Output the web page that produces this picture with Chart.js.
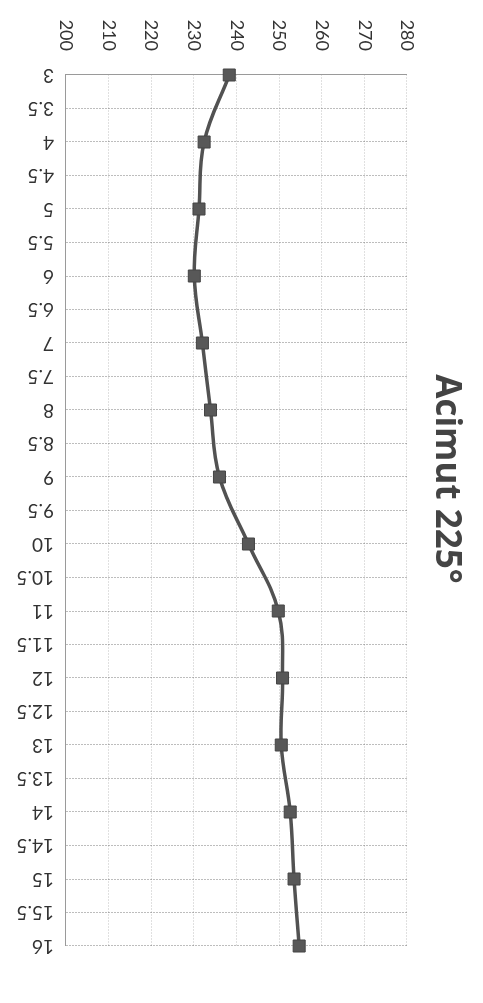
<!DOCTYPE html>
<html lang="es">
<head>
    <meta charset="UTF-8">
    <title>Acimut 225°</title>
    <script src="https://cdn.jsdelivr.net/npm/chart.js"></script>
    <style>
        html, body { margin: 0; padding: 0; background: #fff; }
        /* the scanned sheet is turned on its side, so the chart is drawn
           sideways and the whole canvas is flipped */
        #wrap {
            position: absolute; left: 0; top: 0;
            width: 483px; height: 1003px;
            transform: rotate(180deg);
        }
    </style>
</head>
<body>
    <div id="wrap"><canvas id="acimutChart" width="483" height="1003"></canvas></div>
    <script>
        // Datos
        const horas = ['3', '3.5', '4', '4.5', '5', '5.5', '6', '6.5', '7', '7.5', '8', '8.5', '9', '9.5',
                       '10', '10.5', '11', '11.5', '12', '12.5', '13', '13.5', '14', '14.5', '15', '15.5', '16'];
        const valores = [238.3, null, 232.4, null, 231.2, null, 230.1, null, 232, null, 233.9, null, 236, null,
                         242.8, null, 249.8, null, 250.8, null, 250.5, null, 252.6, null, 253.5, null, 254.7];
        const ejeMin = 200;
        const ejeMax = 280;
        const ejePaso = 10;
        const titulo = 'Acimut 225°';

        const ctx = document.getElementById('acimutChart').getContext('2d');
        new Chart(ctx, {
            type: 'line',
            data: {
                labels: horas,
                datasets: [{
                    data: valores,
                    borderColor: '#525252',
                    borderWidth: 3.5,
                    tension: 0.4,
                    spanGaps: true,
                    pointStyle: 'rect',
                    pointRadius: 8.5,
                    pointBackgroundColor: '#585858',
                    pointBorderColor: '#444',
                    pointBorderWidth: 1
                }]
            },
            options: {
                indexAxis: 'y',
                responsive: false,
                animation: false,
                devicePixelRatio: 1,
                layout: { padding: { left: 0, right: 0, top: 57, bottom: 12 } },
                plugins: {
                    legend: { display: false },
                    tooltip: { enabled: false },
                    title: {
                        display: true,
                        position: 'left',
                        text: titulo,
                        color: '#444',
                        font: { family: 'Open Sans', size: 35, weight: 'bold', lineHeight: 1.2 },
                        padding: { top: 16, bottom: 18 }
                    }
                },
                scales: {
                    x: {
                        position: 'bottom',
                        reverse: true,
                        min: ejeMin,
                        max: ejeMax,
                        ticks: {
                            stepSize: ejePaso,
                            autoSkip: false,
                            minRotation: 90,
                            maxRotation: 90,
                            padding: 24,
                            color: '#333',
                            font: { family: 'Lato', size: 18 }
                        },
                        grid: { color: 'rgba(0,0,0,0.12)', drawTicks: false },
                        border: { display: true, color: '#9a9a9a', width: 1, dash: [2, 1] },
                        afterFit: (scale) => { scale.height = 63; }
                    },
                    y: {
                        position: 'right',
                        reverse: true,
                        offset: false,
                        ticks: {
                            autoSkip: false,
                            padding: 12,
                            color: '#333',
                            font: { family: 'Lato', size: 19 }
                        },
                        grid: { color: 'rgba(0,0,0,0.26)', drawTicks: false },
                        border: { display: true, color: '#9a9a9a', width: 1, dash: [2, 1] },
                        afterFit: (scale) => { scale.width = 66; }
                    }
                }
            }
        });
    </script>
</body>
</html>
